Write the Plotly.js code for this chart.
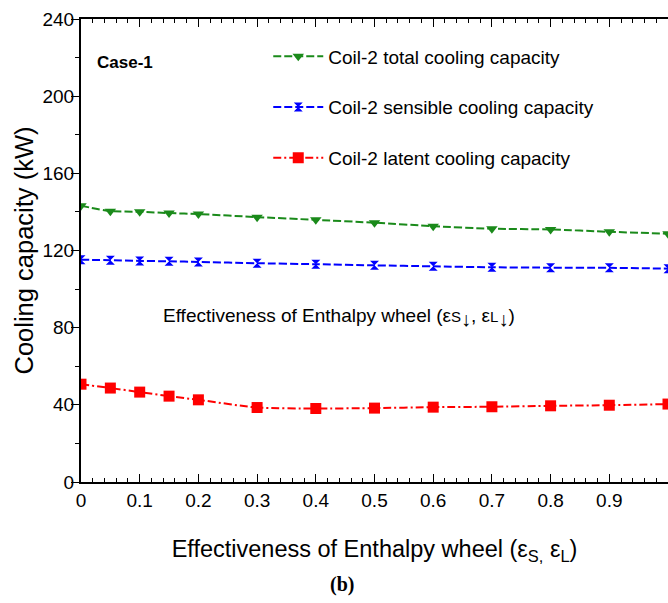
<!DOCTYPE html>
<html>
<head>
<meta charset="utf-8">
<script src="https://cdn.plot.ly/plotly-3.0.1.min.js"></script>
<style>
  html, body { margin: 0; padding: 0; background: #fff; }
  #chart { width: 668px; height: 603px; }
</style>
</head>
<body>
<div id="chart"></div>
<script>
// Enthalpy wheel effectiveness (sensible = latent)
const effectiveness = [0, 0.05, 0.1, 0.15, 0.2, 0.3, 0.4, 0.5, 0.6, 0.7, 0.8, 0.9, 1.0];

// Coil-2 cooling capacities, kW
const totalCapacity    = [143.2, 140.4, 140.1, 139.4, 138.9, 137.3, 135.9, 134.4, 132.6, 131.3, 130.9, 129.7, 128.7];
const sensibleCapacity = [115.2, 115.0, 114.6, 114.4, 114.1, 113.4, 112.9, 112.3, 111.8, 111.3, 111.1, 111.0, 110.6];
const latentCapacity   = [50.7, 48.7, 46.6, 44.5, 42.6, 38.6, 38.1, 38.3, 38.8, 39.0, 39.5, 39.8, 40.4];

const xTickVals = [0, 0.1, 0.2, 0.3, 0.4, 0.5, 0.6, 0.7, 0.8, 0.9, 1];
const xTickText = ['0', '0.1', '0.2', '0.3', '0.4', '0.5', '0.6', '0.7', '0.8', '0.9', '1'];
const yTickVals = [0, 40, 80, 120, 160, 200, 240];

const FONT = 'Arial, "Liberation Sans", sans-serif';

function series(name, y, color, symbol, size, dash, group) {
  return {
    x: effectiveness, y: y, name: name, type: 'scatter', mode: 'lines+markers',
    legendgroup: group,
    line: { color: color, width: 2, dash: dash, shape: 'spline', smoothing: 0.6 },
    marker: { color: color, symbol: symbol, size: size, line: { width: 0 } }
  };
}

const traces = [
  series('Coil-2 total cooling capacity', totalCapacity, '#1a8a1a', 'triangle-down', 10, '8px,3px', 'g1'),
  series('Coil-2 sensible cooling capacity', sensibleCapacity, '#0000ff', 'hourglass', 9, '8px,3px', 'g2'),
  series('Coil-2 latent cooling capacity', latentCapacity, '#ff0000', 'square', 11, '8px,3px,2px,3px', 'g3')
];

const layout = {
  width: 668, height: 603,
  margin: { l: 81, r: 0, t: 19, b: 121 },
  paper_bgcolor: '#fff', plot_bgcolor: '#fff',
  font: { family: FONT, size: 19, color: '#000' },
  showlegend: true,
  legend: {
    x: 0.319, y: 0.96, xanchor: 'left', yanchor: 'top',
    bgcolor: 'rgba(0,0,0,0)', borderwidth: 0,
    traceorder: 'grouped', tracegroupgap: 23,
    font: { family: FONT, size: 19, color: '#000' },
    itemwidth: 50
  },
  xaxis: {
    range: [0, 1], tickvals: xTickVals, ticktext: xTickText,
    showgrid: false, zeroline: false,
    showline: true, linecolor: '#000', linewidth: 2, mirror: 'ticks',
    ticks: 'inside', ticklen: 8, tickwidth: 1, tickcolor: '#000',
    minor: { dtick: 0.02, ticks: 'inside', ticklen: 4, tickwidth: 1, tickcolor: '#000' },
    tickfont: { family: FONT, size: 19 },
    title: { text: 'Effectiveness of Enthalpy wheel (ε<sub>S,</sub> ε<sub>L</sub>)', font: { family: FONT, size: 23.5 }, standoff: 31 }
  },
  yaxis: {
    range: [0, 240], tickvals: yTickVals,
    showgrid: false, zeroline: false,
    showline: true, linecolor: '#000', linewidth: 2, mirror: 'ticks',
    ticks: 'outside', ticklen: 8, tickwidth: 1, tickcolor: '#000',
    minor: { dtick: 20, ticks: 'outside', ticklen: 4, tickwidth: 1, tickcolor: '#000' },
    tickfont: { family: FONT, size: 19 },
    ticklabelstandoff: -7,
    title: { text: 'Cooling capacity (kW)', font: { family: FONT, size: 25.5 }, standoff: 2 }
  },
  annotations: [
    { xref: 'paper', yref: 'paper', x: 0.024, y: 0.905, xanchor: 'left', yanchor: 'middle',
      text: '<b>Case-1</b>', showarrow: false, font: { family: FONT, size: 17 } },
    { xref: 'paper', yref: 'paper', x: 0.136, y: 0.355, xanchor: 'left', yanchor: 'middle',
      text: 'Effectiveness of Enthalpy wheel (ε<span style="font-size:15px">S</span><sub><span style="font-size:20px">↓</span></sub>, ε<span style="font-size:15px">L</span><sub><span style="font-size:20px">↓</span></sub>)',
      showarrow: false, font: { family: FONT, size: 19 } },
    { xref: 'paper', yref: 'paper', x: 0.445, y: -0.222, xanchor: 'center', yanchor: 'middle',
      text: '<b>(b)</b>', showarrow: false,
      font: { family: '"Liberation Serif", "Times New Roman", serif', size: 20 } }
  ]
};

Plotly.newPlot('chart', traces, layout, { displayModeBar: false, staticPlot: true });
</script>
</body>
</html>
